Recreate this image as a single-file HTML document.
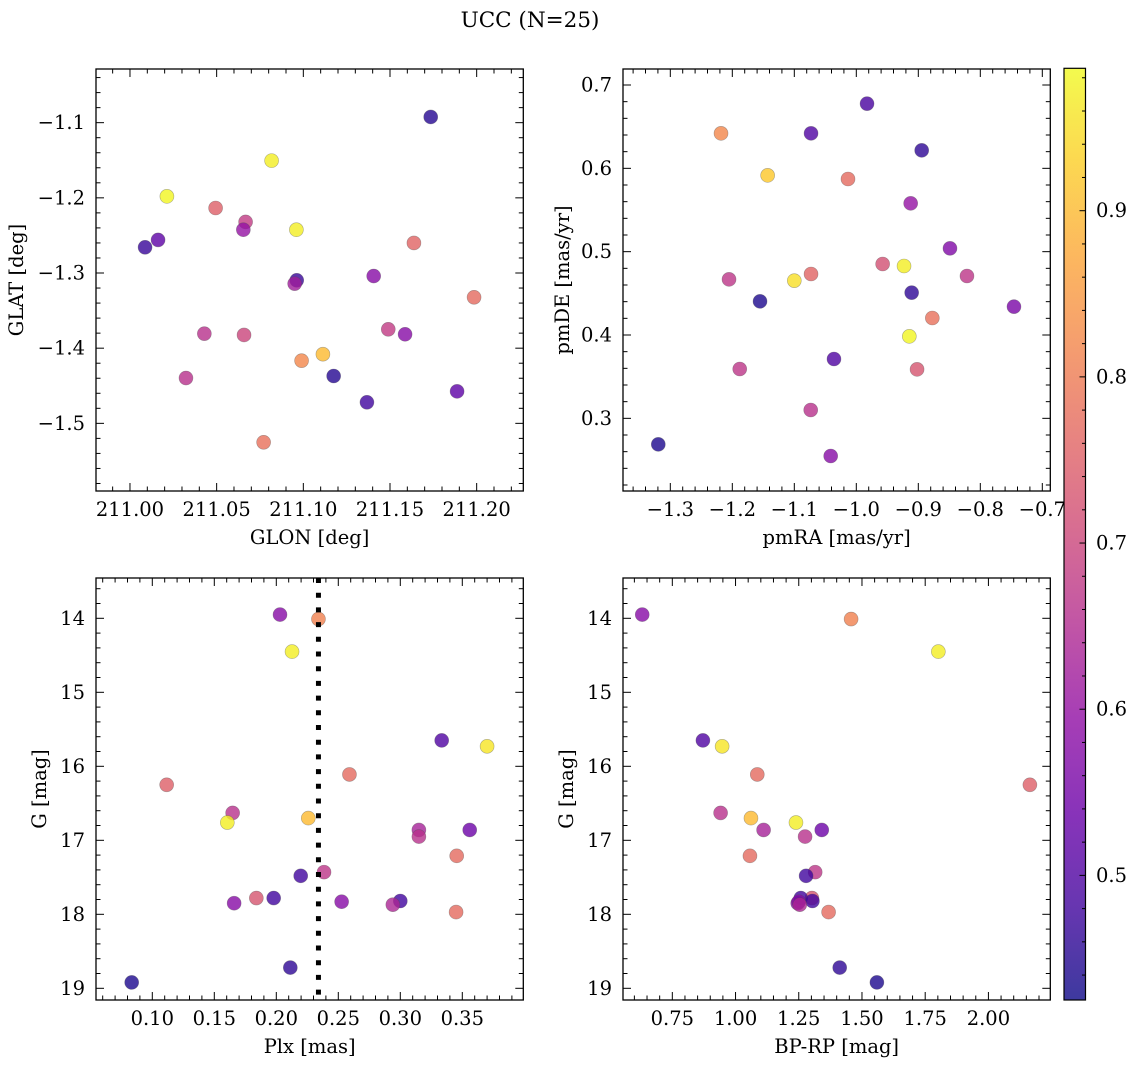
<!DOCTYPE html>
<html><head><meta charset="utf-8"><style>
html,body{margin:0;padding:0;background:#fff}
svg text{font-family:"DejaVu Serif","Liberation Serif",serif;fill:#000}
</style></head><body>
<svg id="fig" width="1136" height="1068" viewBox="0 0 1136 1068" xmlns="http://www.w3.org/2000/svg">
<rect width="1136" height="1068" fill="#fff"/>
<text x="530" y="27" font-size="21.5" text-anchor="middle">UCC (N=25)</text>
<defs>
<linearGradient id="plasmaGrad" x1="0" y1="1" x2="0" y2="0"></linearGradient>
</defs>
</svg>
<script>
// ---- data (top-level arrays) ----
const p1Glon=[211.1735,211.0817,211.0213,211.0494,211.0667,211.0654,211.0960,211.0087,211.0162,211.1638,211.0962,211.0950,211.1406,211.1985,211.0429,211.0658,211.1490,211.1587,211.1113,211.0990,211.0323,211.1175,211.1887,211.1367,211.0771];
const p1Glat=[-1.0924,-1.1505,-1.198,-1.2135,-1.232,-1.2424,-1.2424,-1.2658,-1.256,-1.260,-1.3097,-1.3142,-1.304,-1.3323,-1.3807,-1.3824,-1.3749,-1.3815,-1.408,-1.4166,-1.4397,-1.437,-1.4574,-1.472,-1.5252];
const p1Prob=[0.45,0.97,0.98,0.75,0.68,0.60,0.97,0.47,0.52,0.76,0.47,0.62,0.58,0.77,0.66,0.70,0.68,0.58,0.90,0.82,0.66,0.45,0.52,0.48,0.78];

const p2PmRA=[-0.9827,-1.2182,-1.073,-0.8945,-1.143,-1.0134,-0.9123,-0.8489,-0.9575,-0.923,-1.2053,-1.100,-1.073,-0.8215,-0.9107,-1.1553,-0.7457,-0.8774,-0.9145,-1.036,-1.188,-0.902,-1.0735,-1.3194,-1.0413];
const p2PmDE=[0.6776,0.642,0.642,0.6216,0.5916,0.5872,0.558,0.504,0.4852,0.4828,0.4668,0.4652,0.4732,0.4708,0.4508,0.4404,0.434,0.4204,0.3984,0.3712,0.3592,0.3588,0.310,0.2688,0.2548];
const p2Prob=[0.49,0.82,0.50,0.46,0.92,0.77,0.60,0.57,0.72,0.97,0.67,0.95,0.76,0.67,0.46,0.44,0.56,0.78,0.98,0.50,0.67,0.73,0.66,0.44,0.58];

const starPlx=[0.0834,0.203,0.234,0.2127,0.1116,0.259,0.3334,0.370,0.1648,0.1605,0.2258,0.315,0.315,0.356,0.3455,0.2385,0.2197,0.166,0.1839,0.1979,0.2527,0.300,0.294,0.345,0.2113];
const starBpRp=[1.559,0.631,1.457,1.802,2.164,1.086,0.871,0.947,0.941,1.239,1.061,1.111,1.275,1.341,1.057,1.315,1.279,1.246,1.302,1.258,1.250,1.304,1.254,1.368,1.412];
const starG=[18.92,13.95,14.01,14.45,16.25,16.11,15.65,15.73,16.63,16.76,16.70,16.86,16.95,16.86,17.21,17.43,17.48,17.85,17.78,17.78,17.83,17.82,17.87,17.97,18.72];
const starProb=[0.44,0.58,0.81,0.97,0.75,0.77,0.50,0.96,0.66,0.97,0.90,0.63,0.66,0.54,0.77,0.67,0.48,0.58,0.73,0.48,0.58,0.48,0.64,0.77,0.46];
const plxLine=[0.234];

const p1XTicks=[211.00,211.05,211.10,211.15,211.20];
const p1YTicks=[-1.1,-1.2,-1.3,-1.4,-1.5];
const p2XTicks=[-1.3,-1.2,-1.1,-1.0,-0.9,-0.8,-0.7];
const p2YTicks=[0.3,0.4,0.5,0.6,0.7];
const p3XTicks=[0.10,0.15,0.20,0.25,0.30,0.35];
const gTicks=[14,15,16,17,18,19];
const p4XTicks=[0.75,1.00,1.25,1.50,1.75,2.00];
const cbTicks=[0.5,0.6,0.7,0.8,0.9];
const cbRange=[0.425,0.9857];

// ---- helpers ----
const NS="http://www.w3.org/2000/svg";
const FS=19.5;
const svg=document.getElementById('fig');
function mk(tag,attrs,parent){const e=document.createElementNS(NS,tag);for(const k in attrs)e.setAttribute(k,attrs[k]);(parent||svg).appendChild(e);return e;}
const stops=[[0,13,8,135],[0.1,65,4,157],[0.2,106,0,168],[0.3,143,13,164],[0.4,177,42,144],[0.5,204,71,120],[0.6,225,100,98],[0.7,242,132,75],[0.8,252,166,54],[0.9,252,206,37],[1,240,249,33]];
function plasma(t){t=Math.max(0,Math.min(1,t));for(let i=1;i<stops.length;i++){if(t<=stops[i][0]){const a=stops[i-1],b=stops[i];const f=(t-a[0])/(b[0]-a[0]);return 'rgb('+[1,2,3].map(j=>Math.round(a[j]+(b[j]-a[j])*f)).join(',')+')';}}return 'rgb(240,249,33)';}
function cmap(v){return plasma((v-cbRange[0])/(cbRange[1]-cbRange[0]));}
function fmtNum(v,d){const s=Math.abs(v).toFixed(d);return (v<0?'\u2212':'')+s;}

function panel(o){
  const g=mk('g',{});
  
  
  const sx=v=>o.px0+(v-o.xd[0])/(o.xd[1]-o.xd[0])*(o.px1-o.px0);
  const sy=v=>o.py0+(v-o.yd[0])/(o.yd[1]-o.yd[0])*(o.py1-o.py0);
  for(let i=0;i<o.xs.length;i++){
    const c=mk('circle',{cx:sx(o.xs[i]).toFixed(2),cy:sy(o.ys[i]).toFixed(2),r:7,fill:cmap(o.cs[i]),'fill-opacity':0.8,stroke:'rgba(80,80,80,0.45)','stroke-width':0.6},g);
    
    
  }
  if(o.post)o.post(g,sx,sy);
  const tk=mk('g',{stroke:'#000','stroke-width':1},g);
  
  
  const xmin=Math.min(...o.xd),xmax=Math.max(...o.xd),ymin=Math.min(...o.yd),ymax=Math.max(...o.yd);
  const startX=Math.ceil(xmin/o.xminor-1e-6)*o.xminor;
  for(let v=startX;v<=xmax+1e-9;v+=o.xminor){
    const isMaj=o.xticks.some(t=>Math.abs(t-v)<o.xminor/10);
    const L=isMaj?8:4.5,x=sx(v);
    mk('line',{x1:x,x2:x,y1:o.py1,y2:o.py1-L},tk);
    mk('line',{x1:x,x2:x,y1:o.py0,y2:o.py0+L},tk);
  }
  const startY=Math.ceil(ymin/o.yminor-1e-6)*o.yminor;
  for(let v=startY;v<=ymax+1e-9;v+=o.yminor){
    const isMaj=o.yticks.some(t=>Math.abs(t-v)<o.yminor/10);
    const L=isMaj?8:4.5,y=sy(v);
    mk('line',{x1:o.px0,x2:o.px0+L,y1:y,y2:y},tk);
    mk('line',{x1:o.px1,x2:o.px1-L,y1:y,y2:y},tk);
  }
  const fr=mk('rect',{x:o.px0,y:o.py0,width:o.px1-o.px0,height:o.py1-o.py0,fill:'none',stroke:'#000','stroke-width':1.3},g);
  
  
  o.xticks.forEach(t=>{const e=mk('text',{x:sx(t),y:o.py1+25,'font-size':FS,'text-anchor':'middle'},g);e.textContent=fmtNum(t,o.xdec);
    
    });
  o.yticks.forEach(t=>{const e=mk('text',{x:o.px0-11,y:sy(t)+6.5,'font-size':FS,'text-anchor':'end'},g);e.textContent=fmtNum(t,o.ydec);
    
    });
  const xt=mk('text',{x:(o.px0+o.px1)/2,y:o.py1+53,'font-size':FS,'text-anchor':'middle'},g);xt.textContent=o.xlabel;
  
  
  const yc=(o.py0+o.py1)/2;
  const yt=mk('text',{x:o.ylx,y:yc,'font-size':FS,'text-anchor':'middle',transform:'rotate(-90 '+o.ylx+' '+yc+')'},g);yt.textContent=o.ylabel;
  
  
}

panel({name:'glon-glat-panel',px0:96,px1:523.3,py0:69,py1:491,xd:[210.9804,211.2269],yd:[-1.0286,-1.59],
  xs:p1Glon,ys:p1Glat,cs:p1Prob,xticks:p1XTicks,yticks:p1YTicks,xminor:0.01,yminor:0.02,xdec:2,ydec:1,
  xlabel:'GLON [deg]',ylabel:'GLAT [deg]',ylx:23});
panel({name:'proper-motion-panel',px0:623,px1:1050.3,py0:69,py1:491,xd:[-1.3763,-0.6871],yd:[0.7192,0.2128],
  xs:p2PmRA,ys:p2PmDE,cs:p2Prob,xticks:p2XTicks,yticks:p2YTicks,xminor:0.02,yminor:0.02,xdec:1,ydec:1,
  xlabel:'pmRA [mas/yr]',ylabel:'pmDE [mas/yr]',ylx:569});
panel({name:'plx-g-panel',px0:96,px1:523.3,py0:578,py1:1000,xd:[0.0546,0.3992],yd:[13.4554,19.158],
  xs:starPlx,ys:starG,cs:starProb,xticks:p3XTicks,yticks:gTicks,xminor:0.01,yminor:0.2,xdec:2,ydec:0,
  xlabel:'Plx [mas]',ylabel:'G [mag]',ylx:46,
  post:(g,sx,sy)=>{plxLine.forEach(v=>{const l=mk('line',{x1:sx(v),x2:sx(v),y1:578,y2:1000,stroke:'#000','stroke-width':5,'stroke-dasharray':'5 9.7'},g);
    
    });}});
panel({name:'cmd-panel',px0:623,px1:1050.3,py0:578,py1:1000,xd:[0.555,2.2447],yd:[13.4554,19.158],
  xs:starBpRp,ys:starG,cs:starProb,xticks:p4XTicks,yticks:gTicks,xminor:0.05,yminor:0.2,xdec:2,ydec:0,
  xlabel:'BP-RP [mag]',ylabel:'G [mag]',ylx:573});

// ---- colorbar ----
const grad=document.getElementById('plasmaGrad');
for(let i=0;i<=20;i++){const t=i/20;mk('stop',{offset:t,'stop-color':plasma(t)},grad);}
const cbx0=1064,cbx1=1085.5,cby0=68.3,cby1=1000;
const cb=mk('g',{});


mk('rect',{x:cbx0,y:cby0,width:cbx1-cbx0,height:cby1-cby0,fill:'url(#plasmaGrad)','fill-opacity':0.8},cb);
const cby=v=>cby1-(v-cbRange[0])/(cbRange[1]-cbRange[0])*(cby1-cby0);
for(let v=0.44;v<=0.98+1e-9;v+=0.02){const maj=cbTicks.some(t=>Math.abs(t-v)<0.005);const y=cby(v);
  mk('line',{x1:cbx1,x2:cbx1-(maj?6:3.5),y1:y,y2:y,stroke:'#000','stroke-width':1},cb);}
mk('rect',{x:cbx0,y:cby0,width:cbx1-cbx0,height:cby1-cby0,fill:'none',stroke:'#000','stroke-width':1.2},cb);
cbTicks.forEach(t=>{const e=mk('text',{x:1096,y:cby(t)+6.5,'font-size':FS},cb);e.textContent=t.toFixed(1);
  
  });
</script>
</body></html>
